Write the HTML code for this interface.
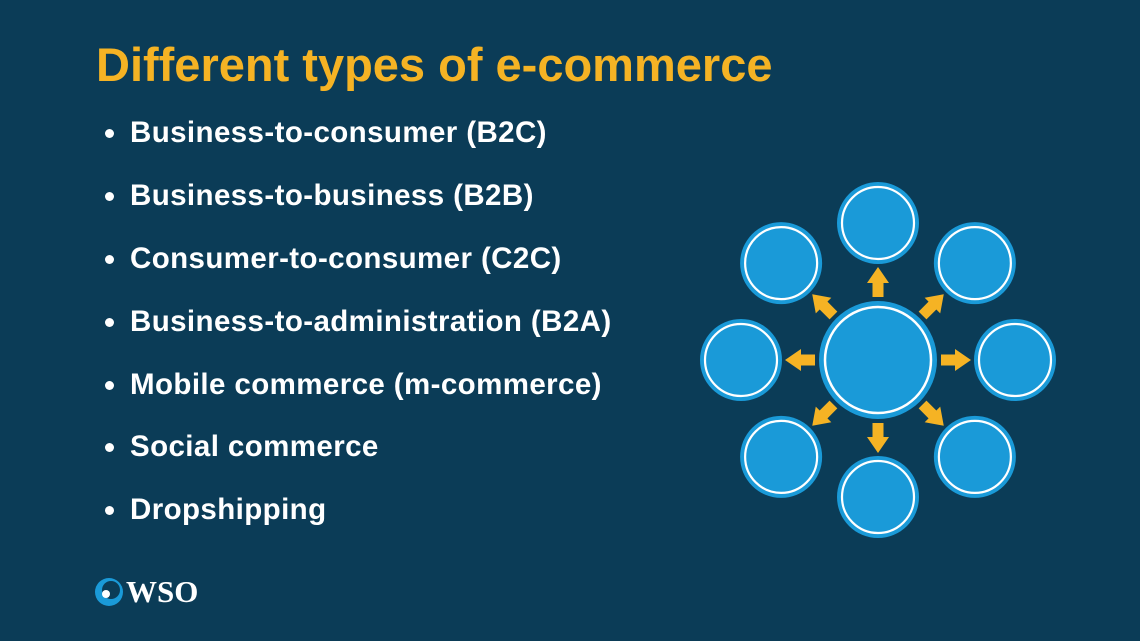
<!DOCTYPE html>
<html><head><meta charset="utf-8"><style>
html,body{margin:0;padding:0}
body{width:1140px;height:641px;background:#0b3c57;position:relative;overflow:hidden;font-family:"Liberation Sans",sans-serif}
h1{position:absolute;left:96px;top:37px;margin:0;color:#f5b324;font-size:47px;font-weight:bold;line-height:56px;letter-spacing:0px}
.item{position:absolute;left:106px;color:#fff;font-size:29.5px;font-weight:bold;line-height:36px;letter-spacing:0.4px}
.item:before{content:"";position:absolute;left:-1px;top:14px;width:9px;height:9px;border-radius:50%;background:#fff}
.item span{margin-left:24px}
.logo{position:absolute;left:126px;top:574px;color:#fff;font-family:"Liberation Serif",serif;font-weight:bold;font-size:31px;line-height:36px}
</style></head><body>
<h1>Different types of e-commerce</h1>
<div class="item" style="top:115px"><span>Business-to-consumer (B2C)</span></div>
<div class="item" style="top:178px"><span>Business-to-business (B2B)</span></div>
<div class="item" style="top:241px"><span>Consumer-to-consumer (C2C)</span></div>
<div class="item" style="top:304px"><span>Business-to-administration (B2A)</span></div>
<div class="item" style="top:367px"><span>Mobile commerce (m-commerce)</span></div>
<div class="item" style="top:429px"><span>Social commerce</span></div>
<div class="item" style="top:492px"><span>Dropshipping</span></div>
<svg style="position:absolute;left:94px;top:577px" width="30" height="30" viewBox="0 0 30 30">
<circle cx="15" cy="15" r="14" fill="#1a9ad8"/><circle cx="17" cy="13" r="9" fill="#0b3c57"/><circle cx="12" cy="17" r="4" fill="#fff"/>
</svg>
<div class="logo">WSO</div>
<svg style="position:absolute;left:0;top:0" width="1140" height="641">
<defs>
<g id="sat"><circle r="41" fill="#1a9ad8"/><circle r="36" fill="none" stroke="#fff" stroke-width="2.2"/></g>
<polygon id="arr" points="-5.5,-63 5.5,-63 5.5,-77 11,-77 0,-93 -11,-77 -5.5,-77" fill="#f5b324"/>
</defs>
<g transform="translate(878,360)">
<circle r="59" fill="#1a9ad8"/><circle r="53" fill="none" stroke="#fff" stroke-width="2.5"/>
<g transform="rotate(0)"><use href="#arr"/><use href="#sat" y="-137"/></g>
<g transform="rotate(45)"><use href="#arr"/><use href="#sat" y="-137"/></g>
<g transform="rotate(90)"><use href="#arr"/><use href="#sat" y="-137"/></g>
<g transform="rotate(135)"><use href="#arr"/><use href="#sat" y="-137"/></g>
<g transform="rotate(180)"><use href="#arr"/><use href="#sat" y="-137"/></g>
<g transform="rotate(225)"><use href="#arr"/><use href="#sat" y="-137"/></g>
<g transform="rotate(270)"><use href="#arr"/><use href="#sat" y="-137"/></g>
<g transform="rotate(315)"><use href="#arr"/><use href="#sat" y="-137"/></g>
</g>
</svg>
</body></html>
